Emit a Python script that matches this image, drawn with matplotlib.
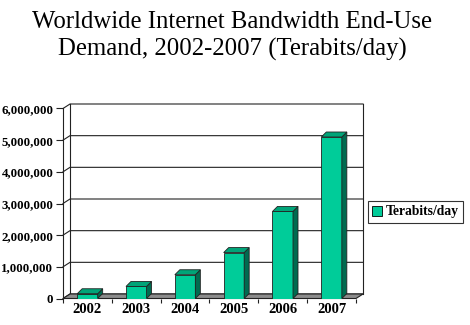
import matplotlib
matplotlib.use("Agg")
import matplotlib.pyplot as plt
from matplotlib.patches import Polygon
from matplotlib.ticker import FuncFormatter

years = ["2002", "2003", "2004", "2005", "2006", "2007"]
demand = [150000, 380000, 750000, 1450000, 2750000, 5100000]
series_name = "Terabits/day"
title = "Worldwide Internet Bandwidth End-Use\nDemand, 2002-2007 (Terabits/day)"

front_c = "#00CC99"
side_c = "#006B50"
top_c = "#00A478"
floor_c = "#8C8C8C"

W, H = 470, 325
fig = plt.figure(figsize=(W / 100, H / 100), dpi=100)

# front plane of the 3D box, in pixels
x0, x1 = 63, 356
y0, y1 = 298.5, 108.5
ax = fig.add_axes([x0 / W, (H - y0) / H, (x1 - x0) / W, (y0 - y1) / H])
ymax = 6000000
ax.set_xlim(-0.5, 5.5)
ax.set_ylim(0, ymax)
for s in ax.spines.values():
    s.set_visible(False)

# pixel -> data helpers for depth offsets
px_x = 6.0 / (x1 - x0)
px_y = ymax / (y0 - y1)
wdx, wdy = 7 * px_x, 4.5 * px_y     # wall depth
bdx, bdy = 5 * px_x, 5 * px_y       # bar depth

lc = "#222222"
lw = 0.8
# floor
ax.add_patch(Polygon([(-0.5, 0), (5.5, 0), (5.5 + wdx, wdy), (-0.5 + wdx, wdy)],
                     closed=True, facecolor=floor_c, edgecolor=lc, lw=lw, clip_on=False, zorder=1))
# gridlines on side wall and back wall
for v in range(0, ymax + 1, 1000000):
    ax.plot([-0.5, -0.5 + wdx, 5.5 + wdx], [v, v + wdy, v + wdy], color=lc, lw=lw,
            clip_on=False, zorder=0.5)
ax.plot([-0.5 + wdx, -0.5 + wdx], [wdy, ymax + wdy], color=lc, lw=lw, clip_on=False, zorder=0.5)
ax.plot([5.5 + wdx, 5.5 + wdx], [wdy, ymax + wdy], color=lc, lw=lw, clip_on=False, zorder=0.5)
ax.plot([-0.5, -0.5], [0, ymax], color=lc, lw=lw, clip_on=False, zorder=3)

# bars
bw = 0.42
xs = range(len(years))
ax.bar(xs, demand, width=bw, color=front_c, edgecolor=lc, linewidth=0.6, zorder=4)
for i, v in zip(xs, demand):
    l, r = i - bw / 2, i + bw / 2
    ax.add_patch(Polygon([(r, 0), (r + bdx, bdy), (r + bdx, v + bdy), (r, v)],
                         facecolor=side_c, edgecolor=lc, lw=0.6, clip_on=False, zorder=4))
    ax.add_patch(Polygon([(l, v), (r, v), (r + bdx, v + bdy), (l + bdx, v + bdy)],
                         facecolor=top_c, edgecolor=lc, lw=0.6, clip_on=False, zorder=4))

# ticks
ax.set_yticks(range(0, ymax + 1, 1000000))
ax.yaxis.set_major_formatter(FuncFormatter(lambda v, p: f"{int(v):,}"))
ax.set_xticks(list(xs))
ax.set_xticklabels(years)
ax.set_xticks([i + 0.5 for i in range(-1, 6)], minor=True)
ax.tick_params(axis="y", length=5, width=0.8, color=lc, pad=2)
ax.tick_params(axis="x", which="major", length=0, pad=3)
ax.tick_params(axis="x", which="minor", length=3, width=0.8, color=lc)
for lab in ax.get_yticklabels():
    lab.set_fontfamily("Liberation Serif")
    lab.set_fontweight("bold")
    lab.set_fontsize(9.3)
for lab in ax.get_xticklabels():
    lab.set_fontfamily("Liberation Serif")
    lab.set_fontweight("bold")
    lab.set_fontsize(10.5)
ax.set_facecolor("none")

fig.text(232 / W, 1 - 11 / H, title, ha="center", va="top", fontsize=17.8,
         family="Liberation Serif", linespacing=1.25)

# legend
leg = fig.legend([Polygon([(0, 0)], facecolor=front_c, edgecolor="black", lw=0.6)], [series_name],
                 loc="center left", bbox_to_anchor=(368 / W, 1 - 212 / H),
                 prop={"family": "Liberation Serif", "weight": "bold", "size": 9.8},
                 frameon=True, fancybox=False, handlelength=0.75, handleheight=0.75,
                 handletextpad=0.25, borderpad=0.3, borderaxespad=0)
leg.get_frame().set_edgecolor("black")
leg.get_frame().set_linewidth(0.8)

fig.savefig("out.png", dpi=100)
